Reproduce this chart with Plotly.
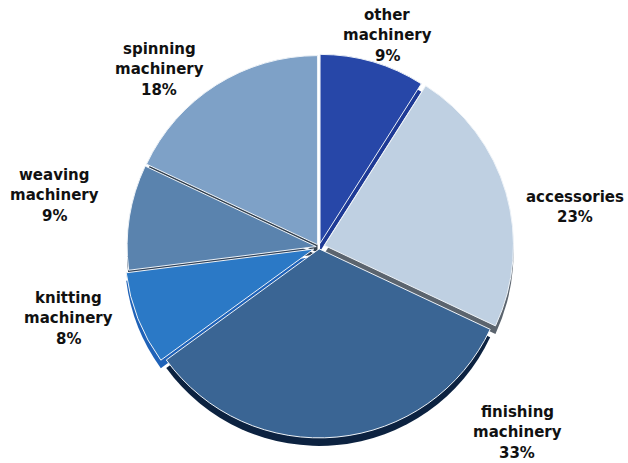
import plotly.graph_objects as go

categories = ["other machinery", "accessories", "finishing machinery",
              "knitting machinery", "weaving machinery", "spinning machinery"]
label_lines = [["other", "machinery"], ["accessories"], ["finishing", "machinery"],
               ["knitting", "machinery"], ["weaving", "machinery"], ["spinning", "machinery"]]
shares = [9, 23, 33, 8, 9, 18]

face_colors = ["#2747a8", "#bfd0e2", "#3a6594", "#2b79c6", "#5a83ae", "#7ea1c7"]
side_colors = ["#1e3a95", "#5b646e", "#0c2240", "#1f62b8", "#2e3f55", "#34414f"]
pulls = [0.02, 0.03, 0.01, 0.03, 0.015, 0.015]

W, H = 628, 463
cx, cy = 319, 247
r = 189
half = r * (1 + max(pulls))
shift = 8

def dom(dy):
    ycen = H - (cy + dy)
    return dict(x=[(cx - half) / W, (cx + half) / W],
                y=[(ycen - half) / H, (ycen + half) / H])

fig = go.Figure()
fig.add_trace(go.Pie(labels=categories, values=shares, sort=False, direction="clockwise",
                     rotation=0, pull=pulls, textinfo="none", hoverinfo="skip",
                     marker=dict(colors=side_colors, line=dict(color=side_colors, width=0)),
                     domain=dom(shift), showlegend=False))
fig.add_trace(go.Pie(labels=categories, values=shares, sort=False, direction="clockwise",
                     rotation=0, pull=pulls, textinfo="none", hoverinfo="label+percent",
                     marker=dict(colors=face_colors, line=dict(color="#eef3f8", width=1)),
                     domain=dom(0), showlegend=False))

# label block anchors: (center x, y of first line) in pixels
label_pos = [(387, 15), (575, 197), (517, 412), (68, 298), (54, 175), (159, 49)]
line_gap = 20.3
for lines, v, (px, py) in zip(label_lines, shares, label_pos):
    for i, t in enumerate(lines + [f"{v}%"]):
        fig.add_annotation(x=px / W, y=1 - (py + i * line_gap) / H,
                           xref="paper", yref="paper", text=t, showarrow=False,
                           xanchor="center", yanchor="middle",
                           font=dict(family="DejaVu Sans", size=15, color="#111111",
                                     weight="bold"))

fig.update_layout(width=W, height=H, margin=dict(l=0, r=0, t=0, b=0),
                  paper_bgcolor="white", plot_bgcolor="white")
fig.write_html("out.html", config={"displayModeBar": False},
               post_script="document.body.style.margin='0';")
